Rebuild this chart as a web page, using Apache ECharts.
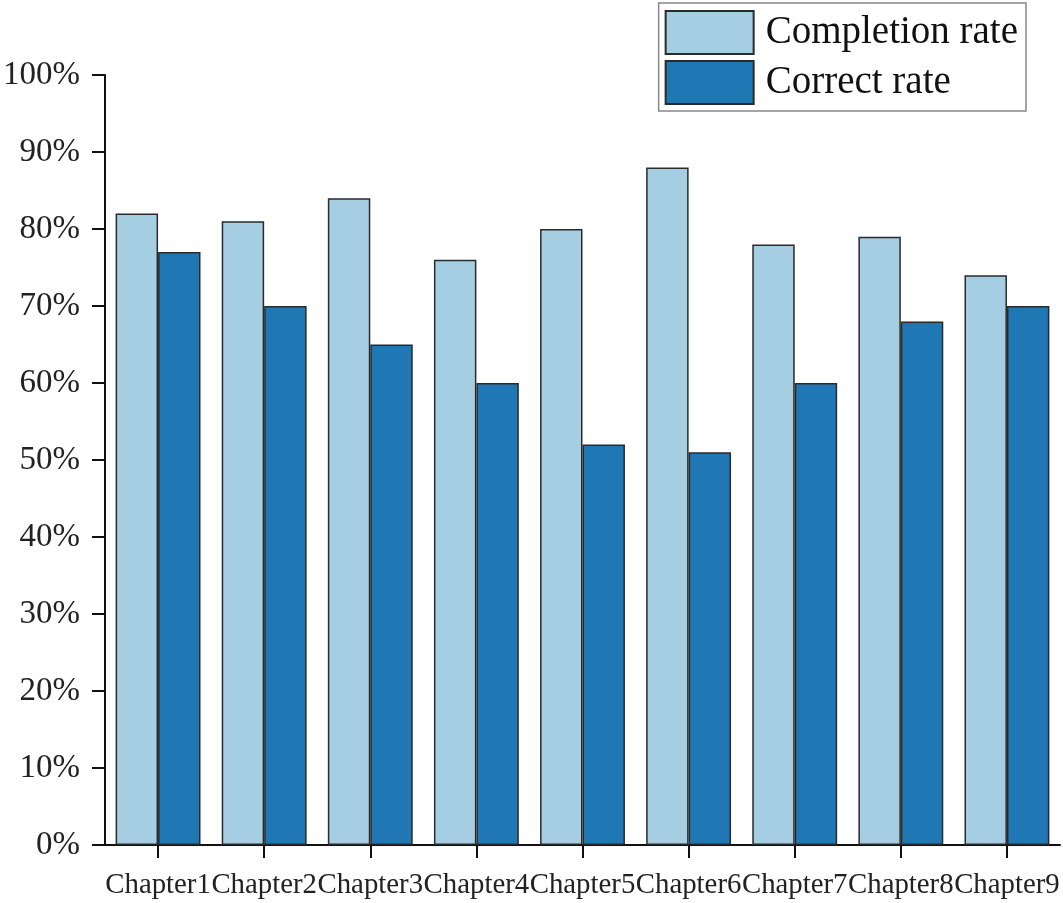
<!DOCTYPE html>
<html>
<head>
<meta charset="utf-8">
<style>html,body{margin:0;padding:0;background:#fff}#c{width:1063px;height:903px}</style>
<script src="https://cdn.jsdelivr.net/npm/echarts@6/dist/echarts.min.js"></script>
</head>
<body>
<div id="c"></div>
<script>
var categories = ['Chapter1','Chapter2','Chapter3','Chapter4','Chapter5','Chapter6','Chapter7','Chapter8','Chapter9'];
var completionRate = [82, 81, 84, 76, 80, 88, 78, 79, 74];
var correctRate = [77, 70, 65, 60, 52, 51, 60, 68, 70];
var seriesNames = ['Completion rate', 'Correct rate'];
var yTicks = [0, 100, 10];

var font = '"Liberation Serif", "Times New Roman", serif';
var chart = echarts.init(document.getElementById('c'));
chart.setOption({
  animation: false,
  grid: {left: 105, right: 3, top: 75, bottom: 58},
  legend: {
    orient: 'vertical', right: 37, top: 3,
    padding: [7, 8, 6, 6],
    icon: 'rect',
    itemWidth: 88, itemHeight: 43, itemGap: 5,
    borderColor: '#888', borderWidth: 1.5,
    textStyle: {fontFamily: font, fontSize: 39, color: '#111', padding: [0, 0, 0, 7]},
    data: seriesNames
  },
  xAxis: {
    type: 'category', data: categories,
    axisLine: {lineStyle: {color: '#111', width: 2}},
    axisTick: {show: true, alignWithLabel: true, length: 13, lineStyle: {color: '#111', width: 2}},
    axisLabel: {fontFamily: font, fontSize: 28.8, color: '#222', margin: 26, interval: 0}
  },
  yAxis: {
    type: 'value', min: yTicks[0], max: yTicks[1], interval: yTicks[2],
    splitLine: {show: false},
    axisLine: {show: true, lineStyle: {color: '#111', width: 2}},
    axisTick: {show: true, length: 13, lineStyle: {color: '#111', width: 2}},
    axisLabel: {fontFamily: font, fontSize: 33, color: '#222', margin: 25, formatter: '{value}%'}
  },
  series: [
    {name: seriesNames[0], type: 'bar', data: completionRate, barGap: '0%', barCategoryGap: '20%',
     itemStyle: {color: '#a6cee3', borderColor: '#2a2a2a', borderWidth: 1.5}},
    {name: seriesNames[1], type: 'bar', data: correctRate, barGap: '0%', barCategoryGap: '20%',
     itemStyle: {color: '#1f78b4', borderColor: '#2a2a2a', borderWidth: 1.5}}
  ]
});
</script>
</body>
</html>
